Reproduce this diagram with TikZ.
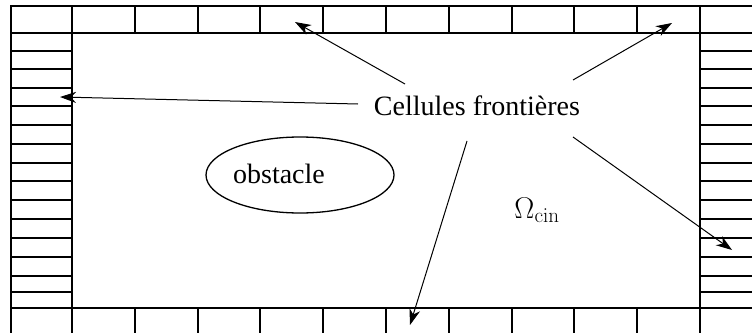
\RequirePackage{fix-cm}
\documentclass[tikz,border=0pt]{standalone}
\usepackage[no-math]{fontspec}
\setmainfont{Liberation Serif}
\DeclareMathSizes{28}{30}{21}{15}
\usetikzlibrary{arrows.meta,shapes.geometric}
\begin{document}
\begin{tikzpicture}[x=1pt,y=-1pt,
  grid/.style={line width=1.9pt, line cap=rect},
  pointer/.style={line width=1pt, -{Stealth[length=16pt,width=11pt,inset=5pt]}},
  lbl/.style={font=\fontsize{28}{34}\selectfont, inner sep=0pt, anchor=base}]
\useasboundingbox (0,0) rectangle (752,332);
\begin{scope}
\clip (0,0) rectangle (752,332);
% top and bottom rows
\draw[grid] (11,6) -- (780,6);
\draw[grid] (11,33) -- (780,33);
\draw[grid] (11,308) -- (780,308);
\foreach \i in {1,...,9} {
  \draw[grid] ({72+62.8*\i},6) -- ({72+62.8*\i},33);
  \draw[grid] ({72+62.8*\i},308) -- ({72+62.8*\i},360);
}
\draw[grid] (11,6) -- (11,360);
\draw[grid] (72,6) -- (72,360);
\draw[grid] (700,6) -- (700,360);
% left and right columns
\foreach \y in {51,69,88,106,125,144,163,181,200,219,238,257,276,292} {
  \draw[grid] (11,\y) -- (72,\y);
  \draw[grid] (700,\y) -- (780,\y);
}
\end{scope}
% obstacle
\node[draw, ellipse, line width=1.3pt, minimum width=188pt, minimum height=76pt] (obst) at (300,175) {};
\node[lbl] (obsttext) at (279,183) {obstacle};
% domain label
\node[lbl] (omega) at (537,218) {$\Omega_{\mathrm{cin}}$};
% boundary label and arrows
\node[lbl] (cells) at (477,115) {Cellules frontières};
\coordinate (t1) at (405,84);
\coordinate (h1) at (295,22);
\coordinate (t2) at (573,80);
\coordinate (h2) at (672,23);
\coordinate (t3) at (358,104);
\coordinate (h3) at (60,97);
\coordinate (t4) at (467,141);
\coordinate (h4) at (410,325);
\coordinate (t5) at (573,137);
\coordinate (h5) at (732,250);
\draw[pointer] (t1) -- (h1);
\draw[pointer] (t2) -- (h2);
\draw[pointer] (t3) -- (h3);
\draw[pointer] (t4) -- (h4);
\draw[pointer] (t5) -- (h5);
\end{tikzpicture}
\end{document}
